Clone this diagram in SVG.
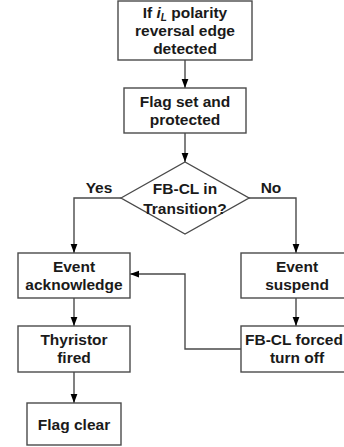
<svg xmlns="http://www.w3.org/2000/svg" width="344" height="447" viewBox="0 0 344 447">
<style>
.box{fill:#fff;stroke:#4a4a4a;stroke-width:1.4}
.ln{fill:none;stroke:#4a4a4a;stroke-width:1.4}
text{font-family:"Liberation Sans",Arial,sans-serif;font-weight:bold;font-size:15.5px;fill:#1a1a1a;text-anchor:middle}
</style>
<defs>
<marker id="ah" markerWidth="9" markerHeight="12" refX="12" refY="4.5" viewBox="0 0 12 9" orient="auto" markerUnits="userSpaceOnUse">
<path d="M0,0 L12,4.5 L0,9 Z" fill="#000"/>
</marker>
</defs>
<rect width="344" height="447" fill="#fff"/>
<g id="connectors">
<path class="ln" d="M185,60 V88" marker-end="url(#ah)"/>
<path class="ln" d="M185,133 V162" marker-end="url(#ah)"/>
<path class="ln" d="M121,198 H74 V253" marker-end="url(#ah)"/>
<path class="ln" d="M249,198 H296 V253" marker-end="url(#ah)"/>
<path class="ln" d="M74,298 V326" marker-end="url(#ah)"/>
<path class="ln" d="M296,298 V326" marker-end="url(#ah)"/>
<path class="ln" d="M74,372 V403" marker-end="url(#ah)"/>
<path class="ln" d="M241,349 H185 V274 H130" marker-end="url(#ah)"/>
<text x="99" y="193">Yes</text>
<text x="271" y="193">No</text>
</g>
<g id="n-detect">
<rect class="box" x="118" y="1" width="134" height="59"/>
<text x="185" y="18">If <tspan font-style="italic">i</tspan><tspan font-style="italic" font-size="10" dy="3">L</tspan><tspan dy="-3"> polarity</tspan></text>
<text x="185" y="36">reversal edge</text>
<text x="185" y="54">detected</text>
</g>
<g id="n-flagset">
<rect class="box" x="124" y="88" width="122" height="45"/>
<text x="185" y="107">Flag set and</text>
<text x="185" y="125">protected</text>
</g>
<g id="n-decision">
<polygon class="box" points="121,198 185,162 249,198 185,234"/>
<text x="185" y="194">FB-CL in</text>
<text x="185" y="214">Transition?</text>
</g>
<g id="n-ack">
<rect class="box" x="18" y="253" width="112" height="45"/>
<text x="74" y="272">Event</text>
<text x="74" y="290">acknowledge</text>
</g>
<g id="n-suspend">
<rect class="box" x="241" y="253" width="112" height="45"/>
<text x="297" y="272">Event</text>
<text x="297" y="290">suspend</text>
</g>
<g id="n-thyristor">
<rect class="box" x="18" y="326" width="112" height="46"/>
<text x="74" y="345">Thyristor</text>
<text x="74" y="363">fired</text>
</g>
<g id="n-forced">
<rect class="box" x="241" y="326" width="112" height="46"/>
<text x="294" y="345" font-size="15">FB-CL forced</text>
<text x="297" y="363">turn off</text>
</g>
<g id="n-clear">
<rect class="box" x="27" y="403" width="94" height="42"/>
<text x="74" y="430">Flag clear</text>
</g>
</svg>
